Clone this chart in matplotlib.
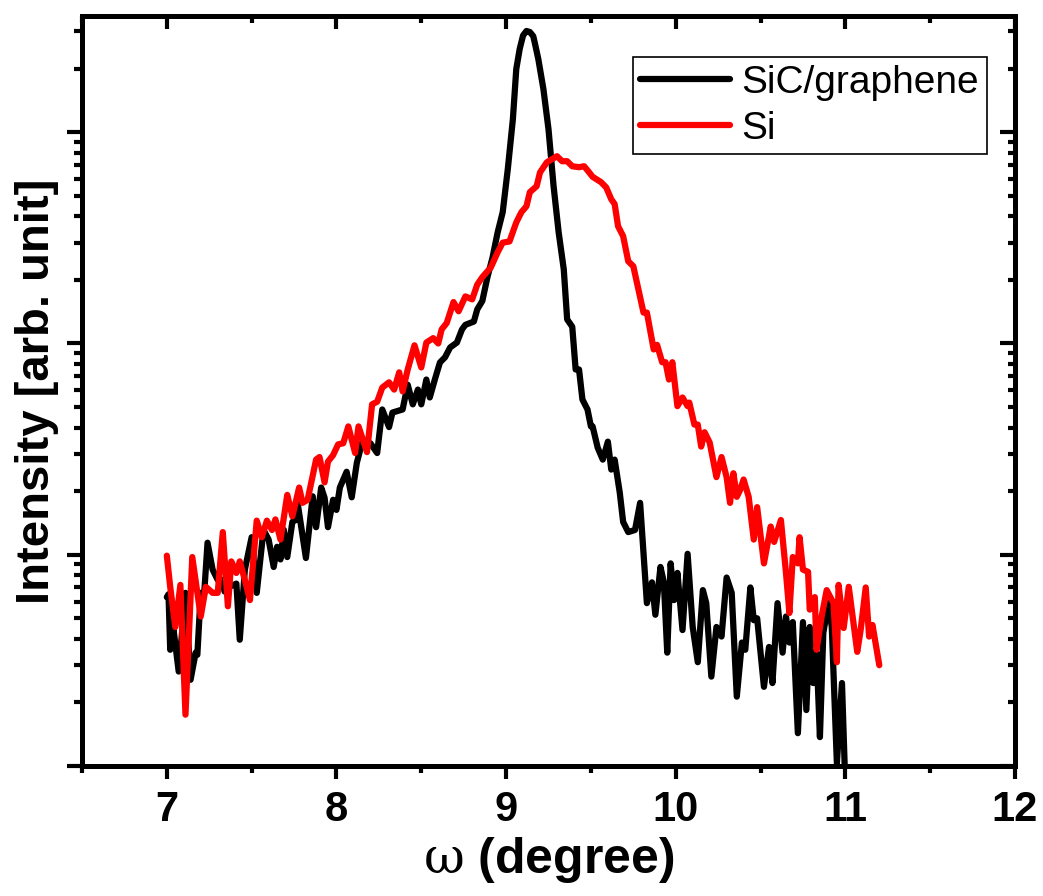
import matplotlib
matplotlib.use("Agg")
import matplotlib.pyplot as plt
from matplotlib.ticker import LogLocator, NullFormatter, MultipleLocator

# omega (degree) and intensity (counts)
sic_omega = [7.00, 7.01, 7.02, 7.04, 7.07, 7.09, 7.11, 7.14, 7.17, 7.18,
             7.20, 7.22, 7.24, 7.27, 7.30, 7.33, 7.34, 7.37, 7.41, 7.43,
             7.46, 7.50, 7.53, 7.57, 7.60, 7.63, 7.65, 7.67, 7.69, 7.71,
             7.74, 7.76, 7.77, 7.82, 7.86, 7.88, 7.91, 7.93, 7.95, 7.98,
             8.00, 8.02, 8.06, 8.09, 8.12, 8.15, 8.20, 8.24, 8.27, 8.31,
             8.33, 8.39, 8.42, 8.45, 8.48, 8.50, 8.53, 8.55, 8.58, 8.61,
             8.64, 8.67, 8.71, 8.74, 8.76, 8.81, 8.83, 8.86, 8.89, 8.92,
             8.95, 8.98, 9.01, 9.04, 9.06, 9.08, 9.10, 9.12, 9.14, 9.16,
             9.17, 9.19, 9.22, 9.25, 9.28, 9.31, 9.34, 9.36, 9.39, 9.41,
             9.43, 9.45, 9.48, 9.50, 9.51, 9.54, 9.57, 9.60, 9.62, 9.64,
             9.67, 9.69, 9.72, 9.76, 9.79, 9.83, 9.86, 9.88, 9.91, 9.93,
             9.95, 9.97, 9.99, 10.01, 10.04, 10.07, 10.10, 10.13, 10.16, 10.18,
             10.21, 10.24, 10.27, 10.30, 10.33, 10.36, 10.39, 10.41, 10.44, 10.46,
             10.48, 10.50, 10.52, 10.55, 10.57, 10.60, 10.63, 10.65, 10.67, 10.69,
             10.72, 10.75, 10.77, 10.79, 10.81, 10.83, 10.85, 10.87, 10.90, 10.92,
             10.95, 10.98, 11.00]
sic_int = [63, 65, 35.5, 44, 28, 42.7, 66, 25.6, 34.4, 33.6,
           66, 65, 114, 85, 76, 76, 67, 70.5, 73, 39.6,
           85, 121, 66, 131, 118, 87.5, 109, 95, 131, 97.5,
           143, 146, 178, 96.5, 189, 135, 208, 186, 135, 182,
           163, 208, 247, 187, 272, 337, 337, 303, 487, 402,
           471, 487, 638, 515, 605, 515, 675, 555, 675, 813,
           860, 957, 1010, 1165, 1225, 1270, 1450, 1590, 2060, 2550,
           3350, 4180, 6680, 11520, 19890, 24740, 28700, 30130, 29800, 28500,
           26300, 22180, 15990, 10330, 5550, 3350, 2243, 1300, 1200, 753,
           753, 543, 487, 405, 405, 321, 282, 343, 253, 282,
           197, 143, 128, 131, 176, 59, 74, 52, 87.5, 74,
           34.4, 91, 61, 82, 44, 101, 45.5, 31, 68, 59,
           26.5, 45.5, 41, 78, 66, 21.3, 38.4, 35.5, 70, 49,
           50, 34.4, 23.7, 36.6, 24.7, 59, 34.4, 51, 38.4, 48,
           14.3, 48, 18.4, 45.5, 24.7, 34.4, 13.7, 42.7, 59, 45.5,
           10.3, 24.7, 8]

si_omega = [7.00, 7.02, 7.05, 7.08, 7.11, 7.15, 7.20, 7.23, 7.27, 7.30,
            7.33, 7.36, 7.38, 7.41, 7.43, 7.46, 7.49, 7.53, 7.56, 7.59,
            7.62, 7.64, 7.67, 7.71, 7.74, 7.78, 7.80, 7.83, 7.88, 7.90,
            7.93, 7.95, 7.98, 8.01, 8.04, 8.07, 8.11, 8.13, 8.18, 8.21,
            8.24, 8.27, 8.31, 8.34, 8.37, 8.39, 8.42, 8.46, 8.50, 8.53,
            8.57, 8.60, 8.62, 8.65, 8.69, 8.72, 8.76, 8.80, 8.83, 8.86,
            8.91, 8.95, 8.98, 9.02, 9.06, 9.09, 9.12, 9.14, 9.18, 9.20,
            9.24, 9.27, 9.30, 9.33, 9.36, 9.39, 9.43, 9.46, 9.49, 9.51,
            9.56, 9.59, 9.62, 9.64, 9.66, 9.69, 9.72, 9.75, 9.78, 9.81,
            9.83, 9.87, 9.89, 9.92, 9.94, 9.96, 9.98, 10.01, 10.04, 10.07,
            10.08, 10.11, 10.13, 10.15, 10.17, 10.20, 10.24, 10.27, 10.30, 10.32,
            10.34, 10.36, 10.38, 10.40, 10.43, 10.46, 10.48, 10.52, 10.56, 10.58,
            10.62, 10.65, 10.67, 10.69, 10.72, 10.73, 10.75, 10.78, 10.79, 10.82,
            10.83, 10.86, 10.89, 10.93, 10.95, 10.96, 10.99, 11.02, 11.07, 11.09,
            11.12, 11.14, 11.16, 11.20]
si_int = [99, 70.5, 45.5, 72, 17.5, 97.5, 51, 70.5, 66, 66,
          128, 57, 93, 82, 93, 76, 61, 145, 121, 145,
          131, 147, 118, 192, 152, 208, 176, 182, 282, 290,
          220, 276, 296, 333, 337, 405, 303, 405, 306, 515,
          530, 618, 655, 605, 730, 593, 753, 980, 770, 1010,
          1060, 1000, 1165, 1250, 1570, 1420, 1670, 1617, 1900, 2060,
          2290, 2700, 3000, 3040, 3740, 4180, 4460, 5200, 5550, 6450,
          7200, 7450, 7700, 7290, 7290, 6900, 6830, 6900, 6450, 6150,
          5800, 5480, 4815, 4570, 3590, 3220, 2450, 2320, 1800, 1400,
          1400, 937, 985, 815, 815, 675, 815, 505, 555, 505,
          525, 413, 413, 325, 380, 340, 233, 290, 233, 176,
          243, 188, 203, 227, 188, 118, 168, 91, 136, 115,
          146, 82, 53, 97.5, 91, 121, 85, 83, 55, 63,
          35.5, 51, 68, 59, 31, 72, 45, 70.5, 34.7, 44,
          70, 41, 46.5, 30]

labels = ["SiC/graphene", "Si"]
colors = ["black", "red"]

plt.rcParams["font.family"] = ["Liberation Sans", "DejaVu Sans"]
plt.rcParams["mathtext.fontset"] = "custom"
plt.rcParams["mathtext.rm"] = "DejaVu Serif"
plt.rcParams["mathtext.it"] = "DejaVu Serif:italic"
plt.rcParams["mathtext.bf"] = "Liberation Sans:bold"

fig = plt.figure(figsize=(10.43, 8.96), dpi=100)
ax = fig.add_axes([82 / 1043, 130 / 896, 933 / 1043, 750 / 896])

for om, inten, lab, col in zip([sic_omega, si_omega], [sic_int, si_int], labels, colors):
    ax.plot(om, inten, color=col, lw=4.5, label=lab,
            solid_joinstyle="round", solid_capstyle="round")

ax.set_yscale("log")
ax.set_xlim(6.5, 12)
ax.set_ylim(10, 10 ** 4.55)

ax.xaxis.set_major_locator(MultipleLocator(1))
ax.xaxis.set_minor_locator(MultipleLocator(0.5))
ax.yaxis.set_major_locator(LogLocator(base=10))
ax.yaxis.set_minor_locator(LogLocator(base=10, subs=range(2, 10)))
ax.yaxis.set_major_formatter(NullFormatter())
ax.yaxis.set_minor_formatter(NullFormatter())

for sp in ax.spines.values():
    sp.set_linewidth(3.6)

ax.tick_params(axis="x", which="major", direction="out", length=9, width=3,
               labelsize=30, pad=8)
ax.tick_params(axis="x", which="minor", direction="out", length=5, width=3)
ax.tick_params(axis="y", which="major", direction="out", length=11, width=3)
ax.tick_params(axis="y", which="minor", direction="out", length=6, width=3)
for t in ax.get_xticklabels():
    t.set_fontweight("bold")

# mirrored ticks pointing inward on top and right
top = ax.secondary_xaxis("top")
top.xaxis.set_major_locator(MultipleLocator(1))
top.xaxis.set_minor_locator(MultipleLocator(0.5))
top.tick_params(which="major", direction="in", length=9, width=3, labeltop=False)
top.tick_params(which="minor", direction="in", length=5, width=3)
top.spines["top"].set_linewidth(3.6)

right = ax.secondary_yaxis("right")
right.yaxis.set_major_locator(LogLocator(base=10))
right.yaxis.set_minor_locator(LogLocator(base=10, subs=range(2, 10)))
right.yaxis.set_major_formatter(NullFormatter())
right.yaxis.set_minor_formatter(NullFormatter())
right.tick_params(which="major", direction="in", length=11, width=3, labelright=False)
right.tick_params(which="minor", direction="in", length=5, width=3)
right.spines["right"].set_linewidth(3.6)

ax.set_xlabel(r"$\mathrm{\omega}$ (degree)", fontsize=36, fontweight="bold", labelpad=4)
ax.set_ylabel("Intensity [arb. unit]", fontsize=34, fontweight="bold", labelpad=2)

leg = ax.legend(loc="upper right", bbox_to_anchor=(987 / 1043, 839 / 896),
                bbox_transform=fig.transFigure, fontsize=28, frameon=True,
                fancybox=False, framealpha=1, edgecolor="black",
                handlelength=2.3, handletextpad=0.3, labelspacing=0.25,
                borderpad=0.2, borderaxespad=0)
leg.get_frame().set_linewidth(1.2)

fig.savefig("out.png", dpi=100)
